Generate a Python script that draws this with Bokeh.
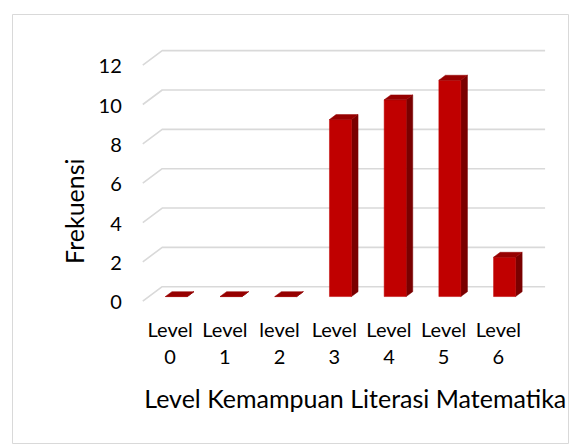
import math
from bokeh.plotting import figure
from bokeh.models import Range1d
from bokeh.core.properties import value
from bokeh.embed import file_html
from bokeh.resources import INLINE

# ---- data ----
categories = ["Level 0", "Level 1", "level 2", "Level 3", "Level 4", "Level 5", "Level 6"]
frequencies = [0, 0, 0, 9, 10, 11, 2]
y_ticks = [0, 2, 4, 6, 8, 10, 12]
x_title = "Level Kemampuan Literasi Matematika"
y_title = "Frekuensi"

# ---- layout (pixels) ----
W, H = 569, 444
FRAME_L, FRAME_T = 12, 14
PX_CAT = 54.7          # pixels per category on the front plane
PX_UNIT = 19.67        # pixels per value unit
FRONT_LEFT = 142.3     # canvas x of the front-plane left edge
FRONT_ZERO = 300.7     # canvas y of value 0 on the front plane

# 3-D depth of the chart (in data units)
DX = 19.4 / PX_CAT
DY = 14.5 / PX_UNIT
# bar placement inside the depth
BF = 0.32              # fraction of depth where bar front face sits
BD = 0.34              # fraction of depth taken by the bar
HW = 11.0 / PX_CAT     # half bar width

x0 = -0.5 + (FRAME_L - FRONT_LEFT) / PX_CAT
x1 = -0.5 + (W - FRONT_LEFT) / PX_CAT
y1 = (FRONT_ZERO - FRAME_T) / PX_UNIT
y0 = (FRONT_ZERO - H) / PX_UNIT

p = figure(width=W, height=H, output_backend="svg", toolbar_location=None,
           x_range=Range1d(x0, x1), y_range=Range1d(y0, y1),
           x_axis_location=None, y_axis_location=None,
           min_border_left=FRAME_L, min_border_top=FRAME_T,
           min_border_right=0, min_border_bottom=0)
p.xgrid.visible = False
p.ygrid.visible = False
p.outline_line_color = "#d9d9d9"
p.outline_line_width = 1
p.background_fill_color = "white"
p.border_fill_color = "white"

n = len(categories)
left_edge = -0.5
right_edge = n - 0.5

# back-wall gridlines with their diagonal on the side wall
gxs, gys = [], []
for t in y_ticks:
    gxs.append([left_edge, left_edge + DX, right_edge + DX])
    gys.append([t, t + DY, t + DY])
p.multi_line(gxs, gys, line_color="#d9d9d9", line_width=1.6)

# bars
fx, fy = BF * DX, BF * DY
bdx, bdy = BD * DX, BD * DY
fronts_l, fronts_r, fronts_b, fronts_t = [], [], [], []
side_xs, side_ys, top_xs, top_ys = [], [], [], []
for i, v in enumerate(frequencies):
    L = i + fx - HW
    R = i + fx + HW
    b = fy
    t = v + fy
    fronts_l.append(L); fronts_r.append(R); fronts_b.append(b); fronts_t.append(t)
    side_xs.append([R, R + bdx, R + bdx, R])
    side_ys.append([b, b + bdy, t + bdy, t])
    top_xs.append([L, L + bdx, R + bdx, R])
    top_ys.append([t, t + bdy, t + bdy, t])

p.patches(side_xs, side_ys, fill_color="#7a0000", line_color="#7a0000", line_width=0.5)
p.quad(left=fronts_l, right=fronts_r, bottom=fronts_b, top=fronts_t,
       fill_color="#c00000", line_color="#c00000", line_width=0.5)
p.patches(top_xs, top_ys, fill_color="#960000", line_color="#960000", line_width=0.5)

FONT = value("Lato")

# y tick labels
p.text(x=[left_edge] * len(y_ticks), y=y_ticks, text=[str(t) for t in y_ticks],
       x_offset=-21, y_offset=1, text_align="right", text_baseline="middle",
       text_font=FONT, text_font_size="20px", text_color="#000000")

# category labels (wrapped)
p.text(x=list(range(n)), y=[0] * n, text=[c.replace(" ", "\n") for c in categories],
       y_offset=16, text_align="center", text_baseline="top", text_line_height=1.12,
       text_font=FONT, text_font_size="20px", text_color="#000000")

# axis titles
p.text(x=[(n - 1) / 2], y=[0], text=[x_title], x_offset=21, y_offset=97,
       text_align="center", text_baseline="middle",
       text_font=FONT, text_font_size="25px", text_color="#000000")
p.text(x=[left_edge], y=[(y_ticks[0] + y_ticks[-1]) / 2], text=[y_title],
       x_offset=-69, y_offset=28, angle=math.pi / 2,
       text_align="center", text_baseline="middle",
       text_font=FONT, text_font_size="25px", text_color="#000000")

open("out.html", "w").write(file_html(p, INLINE))
